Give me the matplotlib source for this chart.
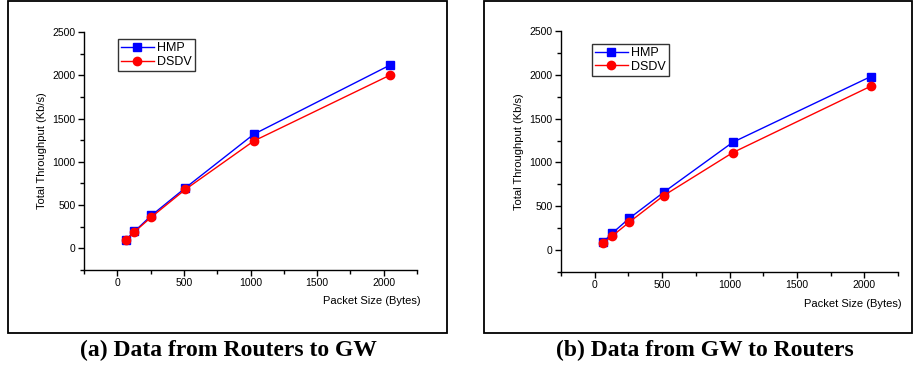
import numpy as np
import matplotlib
matplotlib.use("Agg")
import matplotlib.pyplot as plt
from matplotlib.patches import Rectangle
from matplotlib.ticker import MultipleLocator

plt.rcParams['font.family'] = ['Liberation Sans', 'DejaVu Sans']

# packet sizes (bytes)
packet_size = [64, 128, 256, 512, 1024, 2048]

# (a) routers -> GW
hmp_a = [100, 195, 380, 700, 1318, 2118]
dsdv_a = [95, 190, 362, 682, 1240, 2002]

# (b) GW -> routers
hmp_b = [92, 190, 362, 660, 1230, 1980]
dsdv_b = [82, 158, 318, 622, 1112, 1870]

captions = ['(a) Data from Routers to GW', '(b) Data from GW to Routers']

W, H = 913, 370
fig = plt.figure(figsize=(W / 100, H / 100), dpi=100)


def px_axes(x0, x1, ytop, ybot):
    return fig.add_axes([x0 / W, (H - ybot) / H, (x1 - x0) / W, (ybot - ytop) / H])


def draw(ax, hmp, dsdv, leg_xy):
    ax.plot(packet_size, hmp, color='#0000ff', lw=1, marker='s', ms=5.5, label='HMP')
    ax.plot(packet_size, dsdv, color='#ff0000', lw=1, marker='o', ms=6, label='DSDV')
    ax.set_xlim(-250, 2250)
    ax.set_ylim(-250, 2500)
    ax.xaxis.set_major_locator(MultipleLocator(500))
    ax.xaxis.set_minor_locator(MultipleLocator(250))
    ax.yaxis.set_major_locator(MultipleLocator(500))
    ax.yaxis.set_minor_locator(MultipleLocator(250))
    ax.set_xticks([0, 500, 1000, 1500, 2000])
    ax.set_yticks([0, 500, 1000, 1500, 2000, 2500])
    for s in ['top', 'right']:
        ax.spines[s].set_visible(False)
    for s in ['left', 'bottom']:
        ax.spines[s].set_linewidth(1)
    ax.tick_params(which='major', direction='out', length=4, width=1,
                   labelsize=7.5, colors='black', pad=2)
    ax.tick_params(which='minor', direction='out', length=3, width=1)
    ax.set_ylabel('Total Throughput (Kb/s)', fontsize=8, labelpad=4)
    ax.set_xlabel('Packet Size (Bytes)', fontsize=8, labelpad=3)
    ax.xaxis.set_label_coords(1.01, -0.11)
    ax.xaxis.label.set_horizontalalignment('right')
    leg = ax.legend(loc='upper left', bbox_to_anchor=leg_xy, borderaxespad=0,
                    fontsize=9, frameon=True, fancybox=False, edgecolor='black',
                    handlelength=2.6, handletextpad=0.3, labelspacing=0.15,
                    borderpad=0.25)
    leg.get_frame().set_linewidth(1)


ax1 = px_axes(84, 417, 32, 270)
draw(ax1, hmp_a, dsdv_a, (0.102, 0.971))
ax2 = px_axes(561, 898, 31, 272)
draw(ax2, hmp_b, dsdv_b, (0.092, 0.947))

# frames round each panel
for x0, x1 in [(8, 447), (484, 912)]:
    fig.patches.append(Rectangle((x0 / W, (H - 333) / H), (x1 - x0) / W, 332 / H,
                                 transform=fig.transFigure, fill=False,
                                 edgecolor='black', lw=1.3))

fig.text(228 / W, 1 - 350 / H, captions[0], ha='center', va='center',
         fontsize=17, fontweight='bold', family='Liberation Serif')
fig.text(705 / W, 1 - 350 / H, captions[1], ha='center', va='center',
         fontsize=17, fontweight='bold', family='Liberation Serif')

fig.savefig('out.png', dpi=100)
